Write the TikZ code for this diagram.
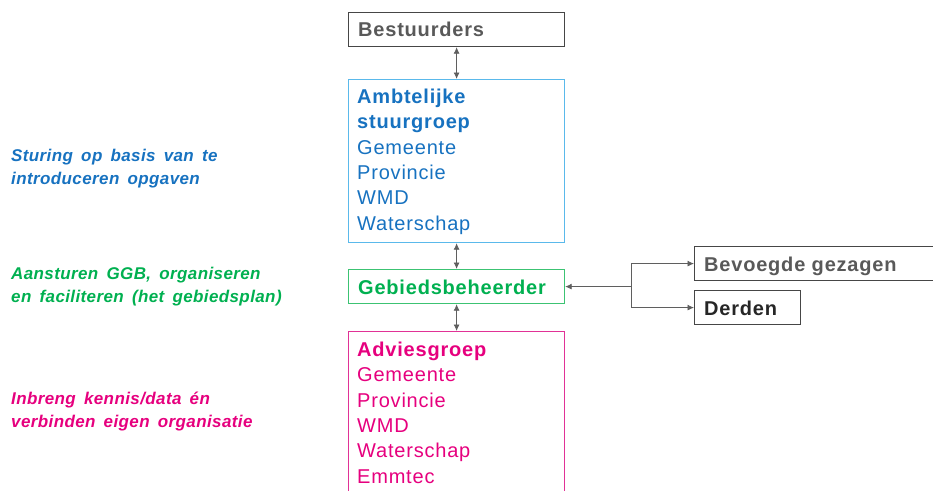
\documentclass[tikz,border=0pt]{standalone}
\usepackage{fontspec}
\setmainfont{Liberation Sans}
\newfontfamily\boxfam{Liberation Sans}[LetterSpace=4]
\newfontfamily\sidefam{Liberation Sans}[LetterSpace=2.3,WordSpace=1.6]
\usetikzlibrary{arrows.meta}
\definecolor{tblue}{RGB}{23,114,192}
\definecolor{lblue}{RGB}{90,185,235}
\definecolor{tgreen}{RGB}{0,176,80}
\definecolor{lgreen}{RGB}{60,195,115}
\definecolor{tmag}{RGB}{230,0,126}
\definecolor{lmag}{RGB}{225,50,150}
\definecolor{tgray}{RGB}{89,89,89}
\definecolor{bgray}{RGB}{70,70,70}
\definecolor{agray}{RGB}{95,95,95}
\tikzset{
  boxnode/.style={draw, line width=1.2pt, rectangle, inner sep=0pt, anchor=north west},
  txt/.style={anchor=base west, inner sep=0pt, font=\boxfam\fontsize{20}{25}\selectfont},
  txtb/.style={anchor=base west, inner sep=0pt, font=\boxfam\fontsize{20}{25}\selectfont\bfseries},
  side/.style={anchor=base west, inner sep=0pt, font=\sidefam\fontsize{17}{23}\selectfont\bfseries\itshape},
  conn/.style={draw=agray, line width=0.8pt},
  tip/.style={-{Latex[length=6.5pt,width=6pt]}},
  dtip/.style={{Latex[length=6.5pt,width=6pt]}-{Latex[length=6.5pt,width=6pt]}},
}
\begin{document}
\begin{tikzpicture}[x=1pt,y=-1pt]
\useasboundingbox (0,0) rectangle (933,490);
% boxes
\node[boxnode, draw=bgray, minimum width=216pt, minimum height=34pt] (best) at (348,12) {};
\node[boxnode, draw=lblue, minimum width=216pt, minimum height=163pt] (amb) at (348,79) {};
\node[boxnode, draw=lgreen, minimum width=216pt, minimum height=34pt] (geb) at (348,269) {};
\node[boxnode, draw=lmag, minimum width=216pt, minimum height=170pt] (adv) at (348,331) {};
\node[boxnode, draw=bgray, minimum width=250pt, minimum height=34pt] (bev) at (694,246) {};
\node[boxnode, draw=bgray, minimum width=106pt, minimum height=34pt] (der) at (694,290) {};
% texts
\node[txtb, text=tgray] (tbest) at (358,36) {Bestuurders};
\node[txtb, text=tblue] (ta1) at (357,103) {Ambtelijke};
\node[txtb, text=tblue] (ta2) at (357,128.5) {stuurgroep};
\node[txt, text=tblue] (ta3) at (357,154) {Gemeente};
\node[txt, text=tblue] (ta4) at (357,179) {Provincie};
\node[txt, text=tblue] (ta5) at (357,204.5) {WMD};
\node[txt, text=tblue] (ta6) at (357,230) {Waterschap};
\node[txtb, text=tgreen] (tgeb) at (358,294) {Gebiedsbeheerder};
\node[txtb, text=tmag] (tv1) at (357,356) {Adviesgroep};
\node[txt, text=tmag] (tv2) at (357,381.5) {Gemeente};
\node[txt, text=tmag] (tv3) at (357,407) {Provincie};
\node[txt, text=tmag] (tv4) at (357,432) {WMD};
\node[txt, text=tmag] (tv5) at (357,457.5) {Waterschap};
\node[txt, text=tmag] (tv6) at (357,483) {Emmtec};
\node[txtb, text=tgray] (tbev) at (704,271) {Bevoegde gezagen};
\node[txtb, text=black!85] (tder) at (704,315) {Derden};
% side texts
\node[side, text=tblue] (s1) at (11,161) {Sturing op basis van te};
\node[side, text=tblue] (s2) at (11,184) {introduceren opgaven};
\node[side, text=tgreen] (g1) at (11,279) {Aansturen GGB, organiseren};
\node[side, text=tgreen] (g2) at (11,302) {en faciliteren (het gebiedsplan)};
\node[side, text=tmag] (m1) at (11,404) {Inbreng kennis/data én};
\node[side, text=tmag] (m2) at (11,427) {verbinden eigen organisatie};
% connectors
\draw[conn, dtip] (best.south) -- (amb.north);
\draw[conn, dtip] (amb.south) -- (geb.north);
\draw[conn, dtip] (geb.south) -- (adv.north);
\coordinate (j) at ([xshift=66pt]geb.east);
\draw[conn, tip] (j) -- (geb.east);
\draw[conn, tip] (j) |- (bev.west);
\draw[conn, tip] (j) |- (der.west);
\end{tikzpicture}
\end{document}
